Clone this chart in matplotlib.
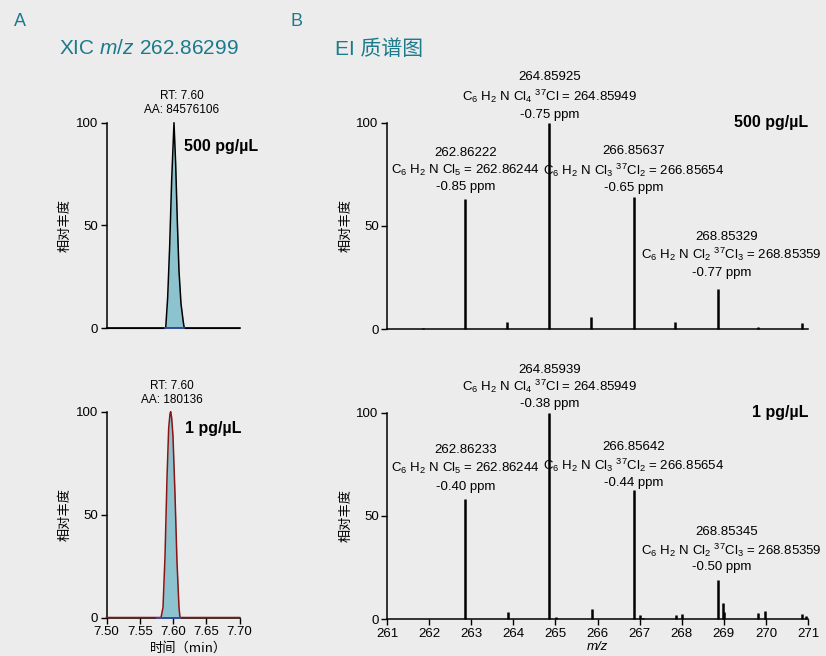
import matplotlib
matplotlib.use("Agg")
import matplotlib.pyplot as plt

plt.rcParams['font.family'] = ['Liberation Sans', 'Noto Sans CJK SC', 'DejaVu Sans']
plt.rcParams['mathtext.fontset'] = 'custom'
plt.rcParams['mathtext.rm'] = 'Liberation Sans'
plt.rcParams['mathtext.it'] = 'Liberation Sans:italic'
plt.rcParams['mathtext.default'] = 'regular'

# ---------------- data ----------------
# Extracted ion chromatograms (relative abundance vs retention time, min)
xic_hi_time = [7.500, 7.585, 7.589, 7.592, 7.595, 7.598, 7.6015, 7.604, 7.6065,
               7.609, 7.612, 7.6155, 7.617, 7.700]
xic_hi_int = [0, 0, 0, 15, 40, 72, 100, 80, 52, 28, 12, 3, 0, 0]

xic_lo_time = [7.500, 7.580, 7.582, 7.585, 7.588, 7.591, 7.5935, 7.5955, 7.5965,
               7.598, 7.600, 7.603, 7.606, 7.609, 7.6105, 7.700]
xic_lo_int = [0, 0, 0, 5, 30, 68, 92, 99, 100, 97, 88, 60, 27, 5, 0, 0]

xic_hi_rt, xic_hi_area = "7.60", "84576106"
xic_lo_rt, xic_lo_area = "7.60", "180136"
xic_hi_baseline = [7.588, 7.617]
xic_lo_baseline = [7.576, 7.611]

# EI mass spectra (m/z, relative abundance)
ms_hi_mz = [261.85, 262.86222, 263.85, 264.85925, 265.85, 266.85637, 267.84,
            268.85329, 269.82, 270.85]
ms_hi_int = [0.5, 63, 3.5, 100, 6.0, 64, 3.5, 19.6, 1.2, 3.0]

ms_lo_mz = [262.24, 262.56, 262.86233, 263.87, 264.85939, 265.02, 265.87,
            266.85642, 267.00, 267.07, 267.86, 268.00, 268.85345, 268.97,
            269.01, 269.81, 269.98, 270.86, 270.96]
ms_lo_int = [0.3, 0.3, 58, 3.4, 100, 1.0, 5.2, 62.5, 1.9, 0.5, 1.9, 2.7, 19,
             7.7, 3.4, 2.9, 4.2, 2.8, 1.6]

# Annotated isotopologue peaks: measured m/z, formula, theoretical m/z, error
iso_formulas = [r"C$_6$ H$_2$ N Cl$_5$",
                r"C$_6$ H$_2$ N Cl$_4$ $^{37}$Cl",
                r"C$_6$ H$_2$ N Cl$_3$ $^{37}$Cl$_2$",
                r"C$_6$ H$_2$ N Cl$_2$ $^{37}$Cl$_3$"]
iso_theory = ["262.86244", "264.85949", "266.85654", "268.85359"]
hi_meas = ["262.86222", "264.85925", "266.85637", "268.85329"]
hi_ppm = ["-0.85", "-0.75", "-0.65", "-0.77"]
lo_meas = ["262.86233", "264.85939", "266.85642", "268.85345"]
lo_ppm = ["-0.40", "-0.38", "-0.44", "-0.50"]

conc_hi = "500 pg/µL"
conc_lo = "1 pg/µL"

mz_ticks = list(range(261, 272))
rt_ticks = [7.50, 7.55, 7.60, 7.65, 7.70]
y_ticks = [0, 50, 100]

# ---------------- style ----------------
BG = "#ececec"
TEAL = "#1b7b8b"
FILL = "#8cc3cf"
INTEG = "#3a55a8"
DARKRED = "#8b1414"
FS_TICK = 9.5
FS_ANN = 9.5
PX = 72 / 100  # pixels -> points at dpi 100

fig = plt.figure(figsize=(8.26, 6.56), dpi=100, facecolor=BG)

W, H = 826, 656


def ax_at(x0, x1, y_top, y_bot):
    return fig.add_axes([x0 / W, 1 - y_bot / H, (x1 - x0) / W, (y_bot - y_top) / H])


def style(ax, xlim, show_x):
    ax.set_facecolor("none")
    for s in ("top", "right"):
        ax.spines[s].set_visible(False)
    for s in ("left", "bottom"):
        ax.spines[s].set_linewidth(1.1)
    ax.set_xlim(*xlim)
    ax.set_ylim(0, 100)
    ax.set_yticks(y_ticks)
    ax.tick_params(axis="both", direction="out", length=4, width=1.0,
                   labelsize=FS_TICK, pad=2)
    if not show_x:
        ax.set_xticks([])
    ax.set_ylabel("相对丰度", family=["Noto Sans CJK SC"], fontsize=9.5, labelpad=3)


ax_a1 = ax_at(106.5, 239.5, 122.7, 328.3)
ax_a2 = ax_at(106.5, 239.5, 411.7, 617.5)
ax_b1 = ax_at(387, 808, 122.7, 329.3)
ax_b2 = ax_at(387, 808, 412.7, 619.3)

# ---------------- XIC panels ----------------
# (label x in data units, RT/AA gap above axes top in px, concentration dx/dy in px)
xic_layout = [(7.613, 7, 10, -24), (7.599, 6, 14, -17)]

for ax, t, y, col, base, rt, aa, conc, show_x, lay in [
        (ax_a1, xic_hi_time, xic_hi_int, "black", xic_hi_baseline, xic_hi_rt,
         xic_hi_area, conc_hi, False, xic_layout[0]),
        (ax_a2, xic_lo_time, xic_lo_int, DARKRED, xic_lo_baseline, xic_lo_rt,
         xic_lo_area, conc_lo, True, xic_layout[1])]:
    style(ax, (7.50, 7.70), show_x)
    ax.fill_between(t, y, 0, color=FILL, lw=0, zorder=2)
    ax.plot(t, y, color=col, lw=1.1, zorder=3, clip_on=False)
    ax.plot(base, [0, 0], color=INTEG, lw=1.2, zorder=4, clip_on=False)
    peak_t = t[y.index(max(y))]
    ax.annotate(f"RT: {rt}\nAA: {aa}", xy=(lay[0], 100),
                xytext=(0, lay[1] * PX), textcoords="offset points",
                ha="center", va="bottom", fontsize=8.5, linespacing=1.15,
                annotation_clip=False)
    ax.annotate(conc, xy=(peak_t, 100), xytext=(lay[2] * PX, lay[3] * PX),
                textcoords="offset points", fontsize=11.5, fontweight="bold",
                ha="left", va="center")

ax_a2.set_xticks(rt_ticks)
ax_a2.set_xticklabels([f"{v:.2f}" for v in rt_ticks])
fig.text(189 / W, 1 - 648 / H, "时间（min）", family=["Noto Sans CJK SC"],
         fontsize=9.5, ha="center", va="center")

# ---------------- mass spectra ----------------
# pixel offsets above each peak top for the three label lines
hi_off = [(12, 29, 46), (8, 26, 46), (9, 27, 46), (16, 34, 52)]
lo_off = [(12, 31, 49), (9, 26, 43), (7, 25, 43), (13, 30, 48)]
last_dx = (4, 14, 9)

for ax, mz, inten, meas, ppm, offs, conc, show_x in [
        (ax_b1, ms_hi_mz, ms_hi_int, hi_meas, hi_ppm, hi_off, conc_hi, False),
        (ax_b2, ms_lo_mz, ms_lo_int, lo_meas, lo_ppm, lo_off, conc_lo, True)]:
    style(ax, (261, 271), show_x)
    ax.vlines(mz, 0, inten, color="black", lw=1.8, zorder=3, clip_on=False)
    for i, m in enumerate(meas):
        x = float(m)
        k = mz.index(min(mz, key=lambda v: abs(v - x)))
        top = inten[k]
        dx = last_dx if i == 3 else (0, 0, 0)
        lines = [f"{ppm[i]} ppm", f"{iso_formulas[i]} = {iso_theory[i]}", m]
        for line, off, d in zip(lines, offs[i], dx):
            ax.annotate(line, xy=(mz[k], top), xytext=(d * PX, off * PX),
                        textcoords="offset points", ha="center", va="center",
                        fontsize=FS_ANN, annotation_clip=False)
    ax.text(1.0, 1.0, conc, transform=ax.transAxes, ha="right", va="center",
            fontsize=11.5, fontweight="bold")

ax_b2.set_xticks(mz_ticks)
ax_b2.set_xticklabels([str(v) for v in mz_ticks])
ax_b2.set_xlabel("m/z", fontsize=9.5, fontstyle="italic", labelpad=1)

# ---------------- panel titles ----------------
fig.text(14 / W, 1 - 21 / H, "A", color=TEAL, fontsize=13, va="center")
fig.text(290 / W, 1 - 21 / H, "B", color=TEAL, fontsize=13, va="center")
fig.text(59 / W, 1 - 49 / H, "XIC $\\it{m/z}$ 262.86299", color=TEAL,
         fontsize=15, va="center")
fig.text(335 / W, 1 - 49 / H, "EI 质谱图", color=TEAL, fontsize=15, va="center",
         family=["Liberation Sans", "Noto Sans CJK SC"])

fig.savefig("out.png", dpi=100, facecolor=BG)
